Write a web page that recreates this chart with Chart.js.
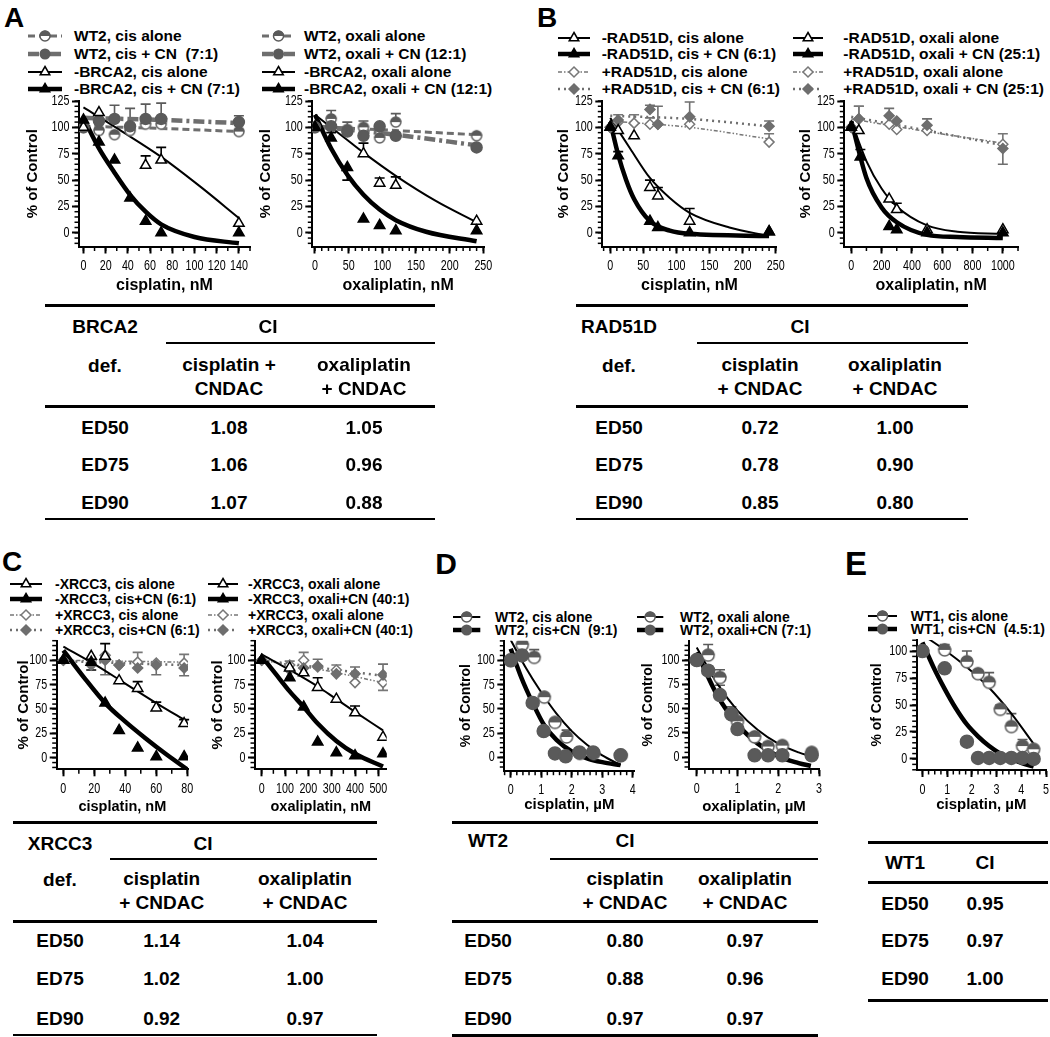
<!DOCTYPE html>
<html><head><meta charset="utf-8">
<script src="https://cdn.jsdelivr.net/npm/chart.js@4.4.1/dist/chart.umd.min.js"></script>
<style>
html,body{margin:0;padding:0;background:#fff}
body{width:1050px;height:1037px;position:relative;overflow:hidden;font-family:'Liberation Sans',Arial,Helvetica,sans-serif;font-weight:bold;color:#000}
.t{position:absolute;white-space:nowrap;line-height:1}
canvas{position:absolute}
.hl{position:absolute;background:#000}
svg{position:absolute;overflow:visible}
</style></head><body>
<script>
// ---------------- DATA ----------------
// Panel A left: cisplatin, nM  [x, %control, error(+up/-down)]
const A1_wtAlone = [[0,100],[14,97],[28,93],[42,97],[56,103],[70,103],[140,96]];
const A1_wtCN    = [[0,100],[14,106],[28,108,13],[42,101,17],[56,108,14],[70,108,15],[140,105,6]];
const A1_koAlone = [[0,100],[14,114],[56,64,9],[70,69,12],[140,9]];
const A1_koCN    = [[0,107],[14,86],[28,69],[42,33],[56,11],[70,0],[140,0]];
const A1_fitWtAlone = [[0,101],[70,99],[140,96]];
const A1_fitWtCN    = [[0,109],[70,107],[140,104]];
const A1_fitKoAlone = [[0,119],[35,96],[70,72],[105,44],[140,14]];
const A1_fitKoCN    = [[0,109],[14,80],[28,57],[42,36],[56,20],[70,8],[100,-4],[140,-10]];
const A1_labels = ['WT2, cis alone','WT2, cis + CN\u00a0 (7:1)','-BRCA2, cis alone','-BRCA2, cis + CN (7:1)'];

// Panel A right: oxaliplatin, nM
const A2_wtAlone = [[0,100],[24,108,8],[48,98,7],[72,100,6],[96,90],[120,105,8],[240,92]];
const A2_wtCN    = [[0,100],[24,101],[48,96],[72,92],[96,101],[120,92],[240,81]];
const A2_koAlone = [[0,100],[72,75,10],[96,47,5],[120,45,8],[240,11]];
const A2_koCN    = [[0,100],[24,90,5],[48,62,-12],[72,13],[96,7],[120,2],[240,2]];
const A2_fitWtAlone = [[0,101],[120,97],[240,93]];
const A2_fitWtCN    = [[0,101],[120,93],[240,83]];
const A2_fitKoAlone = [[0,112],[48,88],[72,76],[120,54],[180,30],[240,10]];
const A2_fitKoCN    = [[0,112],[24,80],[48,55],[72,36],[96,22],[120,12],[165,1],[240,-8]];
const A2_labels = ['WT2, oxali alone','WT2, oxali + CN (12:1)','-BRCA2, oxali alone','-BRCA2, oxali + CN (12:1)'];

// Panel B left: cisplatin, nM
const B1_koAlone = [[0,100],[12,97],[36,92],[60,43,7],[72,35,8],[120,11,12],[240,1]];
const B1_koCN    = [[0,100],[12,73,4],[60,11],[72,5],[120,0],[240,1]];
const B1_wtAlone = [[0,100],[12,105,7],[36,104,8],[60,103,6],[72,103],[120,103],[240,86,8]];
const B1_wtCN    = [[0,100],[12,107],[60,117,4],[72,103,17],[120,110,14],[240,101,5]];
const B1_fitKoAlone = [[0,109],[30,80],[60,52],[90,33],[120,19],[180,5],[240,-3]];
const B1_fitKoCN    = [[0,105],[12,74],[24,50],[36,32],[60,11],[90,2],[120,-1],[240,-3]];
const B1_fitWtAlone = [[0,106],[120,100],[240,89]];
const B1_fitWtCN    = [[0,111],[120,108],[240,101]];
const B1_labels = ['-RAD51D, cis alone','-RAD51D, cis + CN (6:1)','+RAD51D, cis alone','+RAD51D, cis + CN (6:1)'];

// Panel B right: oxaliplatin, nM
const B2_koAlone = [[0,100],[50,97],[250,32],[300,22,6],[500,3],[1000,3]];
const B2_koCN    = [[0,100],[60,72,7],[250,6],[300,3],[500,0],[1000,0]];
const B2_wtAlone = [[0,100],[50,108,12],[250,103],[300,98],[500,97],[1000,84,10]];
const B2_wtCN    = [[0,100],[50,108,12],[250,111,7],[300,106],[500,102,6],[1000,80,-15]];
const B2_fitKoAlone = [[0,106],[100,68],[200,42],[300,25],[500,7],[700,1],[1000,-1]];
const B2_fitKoCN    = [[0,106],[100,52],[200,24],[300,10],[500,-2],[700,-4],[1000,-5]];
const B2_fitWtAlone = [[0,108],[500,96],[1000,85]];
const B2_fitWtCN    = [[0,110],[500,97],[1000,83]];
const B2_labels = ['-RAD51D, oxali alone','-RAD51D, oxali + CN (25:1)','+RAD51D, oxali alone','+RAD51D, oxali + CN (25:1)'];

// Panel C left: cisplatin, nM
const C1_koAlone = [[0,100],[18,104],[27,104,13],[36,79],[48,71,7],[60,51,6],[78,35,4]];
const C1_koCN    = [[0,100],[18,98,-8],[27,56],[36,28],[48,10],[60,1],[78,1]];
const C1_wtAlone = [[0,100],[18,97],[27,105],[36,95],[48,98,10],[60,97],[78,97,9]];
const C1_wtCN    = [[0,100],[18,95],[27,100,-15],[36,95],[48,92],[60,95,-10],[78,92,-8]];
const C1_fitKoAlone = [[0,114],[20,96],[40,76],[60,56],[80,37]];
const C1_fitKoCN    = [[0,110],[13,83],[27,56],[40,37],[53,20],[66,4],[80,-12]];
const C1_fitWtAlone = [[0,100],[78,98]];
const C1_fitWtCN    = [[0,99],[78,95]];
const C1_labels = ['-XRCC3, cis alone','-XRCC3, cis+CN (6:1)','+XRCC3, cis alone','+XRCC3, cis+CN (6:1)'];

// Panel C right: oxaliplatin, nM
const C2_koAlone = [[0,100],[120,92],[180,87,5],[240,72,10],[320,60],[400,46,7],[520,21]];
const C2_koCN    = [[0,100],[120,82],[180,52],[240,16],[320,5],[400,2],[520,4]];
const C2_wtAlone = [[0,100],[120,95,4],[180,100,8],[240,93],[320,90,5],[400,77],[520,77,-8]];
const C2_wtCN    = [[0,100],[120,90],[180,92],[240,94,7],[320,86],[400,86,7],[520,85,11]];
const C2_fitKoAlone = [[0,106],[120,90],[240,73],[320,60],[400,47],[520,28]];
const C2_fitKoCN    = [[0,104],[60,86],[120,68],[180,52],[240,35],[320,17],[400,4],[520,-9]];
const C2_fitWtAlone = [[0,100],[260,90],[520,77]];
const C2_fitWtCN    = [[0,100],[260,92],[520,84]];
const C2_labels = ['-XRCC3, oxali alone','-XRCC3, oxali+CN (40:1)','+XRCC3, oxali alone','+XRCC3, oxali+CN (40:1)'];

// Panel D left: cisplatin, uM
const D1_alone = [[0,100],[0.38,116],[0.77,103,8],[1.1,62],[1.45,36],[1.83,21,7],[2.27,4],[2.72,4],[3.62,2]];
const D1_cn    = [[0,100],[0.37,105],[0.72,56],[1.08,27],[1.45,4],[1.8,1],[2.25,5],[2.7,5],[3.6,2]];
const D1_fitAlone = [[0,121],[0.5,92],[1,67],[1.5,45],[2,27],[2.5,13],[3,2],[3.6,-8]];
const D1_fitCN    = [[0,112],[0.35,82],[0.72,56],[1.1,33],[1.5,18],[2,6],[2.5,-1],[3,-5],[3.6,-8]];
const D1_labels = ['WT2, cis alone','WT2, cis+CN\u00a0 (9:1)'];

// Panel D right: oxaliplatin, uM
const D2_alone = [[0,100],[0.28,105,11],[0.57,82,8],[0.85,45,7],[1.0,37],[1.42,21,4],[1.75,11,4],[2.1,12],[2.82,5]];
const D2_cn    = [[0,100],[0.28,89,5],[0.57,64,10],[0.85,44],[1.0,29],[1.42,2],[1.75,2],[2.1,2],[2.82,2]];
const D2_fitAlone = [[0,113],[0.5,76],[1,48],[1.5,28],[2,14],[2.5,5],[2.8,1]];
const D2_fitCN    = [[0,108],[0.5,64],[1,34],[1.5,14],[2,1],[2.5,-6],[2.8,-9]];
const D2_labels = ['WT2, oxali alone','WT2, oxali+CN (7:1)'];

// Panel E: cisplatin, uM
const E_alone = [[0,100],[0.9,101,5],[1.8,90,10],[2.25,79],[2.7,71,9],[3.15,46,4],[3.6,30,12],[4.05,12,6],[4.5,9,2]];
const E_cn    = [[0,100],[0.9,84],[1.8,16],[2.25,1],[2.7,1],[3.15,1],[3.6,1],[4.05,1],[4.5,0]];
const E_fitAlone = [[0,115],[0.9,101],[1.8,85],[2.7,66],[3.6,42],[4.5,14]];
const E_fitCN    = [[0,108],[0.45,85],[0.9,65],[1.35,47],[1.8,32],[2.25,21],[2.7,12],[3.15,5],[3.6,0],[4.05,-4],[4.5,-7]];
const E_labels = ['WT1, cis alone','WT1, cis+CN\u00a0 (4.5:1)'];

// Tick labels
const TK_y125 = [0,25,50,75,100,125];
const TK_y100 = [0,25,50,75,100];
const TK_x140 = [0,20,40,60,80,100,120,140];
const TK_x250 = [0,50,100,150,200,250];
const TK_x1000 = [0,200,400,600,800,1000];
const TK_x80 = [0,20,40,60,80];
const TK_x500 = [0,100,200,300,400,500];
const TK_x4 = [0,1,2,3,4];
const TK_x3 = [0,1,2,3];
const TK_x5 = [0,1,2,3,4,5];

// CI tables
const CI_rows = ['ED50','ED75','ED90'];
const CI_A_cis = ['1.08','1.06','1.07'], CI_A_oxa = ['1.05','0.96','0.88'];
const CI_B_cis = ['0.72','0.78','0.85'], CI_B_oxa = ['1.00','0.90','0.80'];
const CI_C_cis = ['1.14','1.02','0.92'], CI_C_oxa = ['1.04','1.00','0.97'];
const CI_D_cis = ['0.80','0.88','0.97'], CI_D_oxa = ['0.97','0.96','0.97'];
const CI_E = ['0.95','0.97','1.00'];

// ---------------- STYLES ----------------
const SANS = "'Liberation Sans', Arial, Helvetica, sans-serif";
const G1 = '#5a5a5a', G2 = '#6e6e6e';
const ST = {
  wtAlone:  {line:G2, w:3,   dash:[7,4],       m:'half',     mc:G1, r:5.5},
  wtCN:     {line:G2, w:4.5, dash:[11,4,3,4],  m:'circle',   mc:G1, r:5.5},
  koAlone:  {line:'#000', w:2, dash:[],        m:'triOpen',  mc:'#000', r:6},
  koCN:     {line:'#000', w:4.5, dash:[],      m:'triFill',  mc:'#000', r:6},
  resAlone: {line:'#777', w:1.5, dash:[4,2,1.5,2,1.5,2], m:'diamOpen', mc:'#777', r:5},
  resCN:    {line:G2, w:2.5, dash:[2,4],      m:'diamFill', mc:G2, r:5},
  dAlone:   {line:'#000', w:2, dash:[],        m:'half',     mc:G1, r:6.5},
  dCN:      {line:'#000', w:4.5, dash:[],      m:'circle',   mc:G1, r:6.5}
};

// ---------------- HELPERS ----------------
function txt(s, x, y, size, align, font){
  const d = document.createElement('div'); d.className='t'; d.textContent = s;
  d.style.fontSize = size+'px'; if(font) d.style.fontFamily = font;
  d.style.left = x+'px'; d.style.top = y+'px';
  d.style.transform = align==='left' ? 'translate(0,-50%)' : 'translate(-50%,-50%)';
  document.body.appendChild(d); return d;
}
function hl(x1,x2,y,th){ const d=document.createElement('div'); d.className='hl';
  d.style.left=x1+'px'; d.style.width=(x2-x1)+'px'; d.style.top=(y-th/2)+'px'; d.style.height=th+'px';
  document.body.appendChild(d); }

function halfImg(r, col){
  const s = Math.ceil(2*r+3), c=document.createElement('canvas'); c.width=s; c.height=s;
  const g=c.getContext('2d'), m=s/2;
  g.fillStyle='#fff'; g.beginPath(); g.arc(m,m,r,0,2*Math.PI); g.fill();
  g.fillStyle=col; g.beginPath(); g.arc(m,m,r,Math.PI,2*Math.PI); g.closePath(); g.fill();
  g.strokeStyle=col; g.lineWidth=1.5; g.beginPath(); g.arc(m,m,r-0.5,0,2*Math.PI); g.stroke();
  return c;
}
function pstyle(st){
  switch(st.m){
    case 'half': return {ps:halfImg(st.r, st.mc), bg:'#fff', bc:st.mc};
    case 'circle': return {ps:'circle', bg:st.mc, bc:st.mc};
    case 'triOpen': return {ps:'triangle', bg:'#fff', bc:'#000'};
    case 'triFill': return {ps:'triangle', bg:'#000', bc:'#000'};
    case 'diamOpen': return {ps:'rectRot', bg:'#fff', bc:st.mc};
    case 'diamFill': return {ps:'rectRot', bg:st.mc, bc:st.mc};
  }
}
function markerDs(arr, st){
  const p = pstyle(st);
  return {data:arr.map(a=>({x:a[0],y:a[1]})), errs:arr.map(a=>a[2]||0), errColor:p.bc,
    showLine:false, pointStyle:p.ps, pointRadius:st.r, backgroundColor:p.bg, borderColor:p.bc,
    pointBackgroundColor:p.bg, pointBorderColor:p.bc, pointBorderWidth:1.5};
}
function fitDs(arr, st){
  return {data:arr.map(a=>({x:a[0],y:a[1]})), showLine:true, pointRadius:0, borderColor:st.line,
    borderWidth:st.w, borderDash:st.dash, cubicInterpolationMode:'monotone', fill:false, borderCapStyle:'butt'};
}

const errPlugin = {id:'errBars', beforeDatasetsDraw(chart){
  const ctx=chart.ctx, xs=chart.scales.x, ys=chart.scales.y;
  ctx.save();
  chart.data.datasets.forEach(ds=>{
    if(!ds.errs) return;
    ds.data.forEach((p,i)=>{
      const e=ds.errs[i]; if(!e) return;
      const x=xs.getPixelForValue(p.x), y0=ys.getPixelForValue(p.y), y1=ys.getPixelForValue(p.y+e);
      ctx.strokeStyle=ds.errColor; ctx.lineWidth=1.6;
      ctx.beginPath(); ctx.moveTo(x,y0); ctx.lineTo(x,y1); ctx.moveTo(x-5,y1); ctx.lineTo(x+5,y1); ctx.stroke();
    });
  });
  ctx.restore();
}};
const minorPlugin = {id:'minorTicks', afterDraw(chart){
  const o = chart.options.plugins.minorTicks; if(!o) return;
  const ctx=chart.ctx, xs=chart.scales.x, ys=chart.scales.y, ca=chart.chartArea;
  ctx.save(); ctx.strokeStyle='#000'; ctx.lineWidth=1.5;
  for(let k=Math.ceil(xs.min/o.x-1e-9); k*o.x<=xs.max+1e-9; k++){
    const px=xs.getPixelForValue(k*o.x); ctx.beginPath(); ctx.moveTo(px,ca.bottom); ctx.lineTo(px,ca.bottom+4.5); ctx.stroke();
  }
  for(let k=Math.ceil(ys.min/o.y-1e-9); k*o.y<=ys.max+1e-9; k++){
    const py=ys.getPixelForValue(k*o.y); ctx.beginPath(); ctx.moveTo(ca.left,py); ctx.lineTo(ca.left-4.5,py); ctx.stroke();
  }
  // condensed tick labels (GraphPad-style narrow font), placed from the library's scales
  ctx.fillStyle='#000'; ctx.font='14.5px '+SANS; ctx.textBaseline='middle';
  ctx.textAlign='center';
  xs.ticks.forEach(t=>{ const px=xs.getPixelForValue(t.value);
    ctx.save(); ctx.translate(px, ca.bottom+19.5); ctx.scale(0.74,1); ctx.fillText(String(t.value),0,0); ctx.restore(); });
  ctx.textAlign='right';
  ys.ticks.forEach(t=>{ const py=ys.getPixelForValue(t.value);
    ctx.save(); ctx.translate(ca.left-9.5, py); ctx.scale(0.74,1); ctx.fillText(String(t.value),0,0); ctx.restore(); });
  ctx.restore();
}};

function chart(g, ax, datasets){
  const ylh=g.yf*1.2, xlh=g.xf*1.2, padT=10;
  const left=Math.round(g.L-(g.L-g.yt+ylh/2));
  const Wy=g.L-left, Hx=g.xt+xlh/2-g.B;
  const top=Math.round(g.T-padT), pT=g.T-top;
  const W=Math.ceil(Wy+(g.R-g.L)+14), H=Math.ceil(pT+(g.B-g.T)+Hx);
  const padR=W-Wy-(g.R-g.L), padB=H-pT-(g.B-g.T)-Hx;
  const cv=document.createElement('canvas'); cv.width=W; cv.height=H;
  cv.style.left=left+'px'; cv.style.top=top+'px'; document.body.appendChild(cv);
  new Chart(cv,{type:'scatter',data:{datasets},
    options:{responsive:false,animation:false,devicePixelRatio:1,
      layout:{padding:{left:0,top:pT,right:padR,bottom:padB}},
      plugins:{legend:{display:false},tooltip:{enabled:false},minorTicks:{x:ax.xm,y:ax.ym}},
      scales:{
        x:{type:'linear',min:ax.xmin,max:ax.xmax,
          afterBuildTicks:s=>{s.ticks=ax.xt.map(v=>({value:v}));},
          afterFit:s=>{s.height=Hx;},
          grid:{display:true,drawOnChartArea:false,drawTicks:true,tickLength:7,tickColor:'#000',tickWidth:2},
          border:{display:true,color:'#000',width:2},
          ticks:{display:false},
          title:{display:true,text:ax.xTitle,color:'#000',font:{family:SANS,size:g.xf,weight:'bold'},padding:0}},
        y:{type:'linear',min:ax.ymin,max:ax.ymax,
          afterBuildTicks:s=>{s.ticks=ax.yt.map(v=>({value:v}));},
          afterFit:s=>{s.width=Wy;},
          grid:{display:true,drawOnChartArea:false,drawTicks:true,tickLength:7,tickColor:'#000',tickWidth:2},
          border:{display:true,color:'#000',width:2},
          ticks:{display:false},
          title:{display:true,text:'% of Control',color:'#000',font:{family:SANS,size:g.yf,weight:'bold'},padding:0}}
      }},
    plugins:[errPlugin,minorPlugin]});
}

function svgMarker(m, cx, cy, r, col){
  const f=(n)=>n.toFixed(2);
  switch(m){
    case 'triOpen': case 'triFill': {
      const pts=`${f(cx)},${f(cy-r)} ${f(cx+0.87*r)},${f(cy+0.5*r)} ${f(cx-0.87*r)},${f(cy+0.5*r)}`;
      return `<polygon points="${pts}" fill="${m==='triOpen'?'#fff':'#000'}" stroke="#000" stroke-width="1.5"/>`; }
    case 'circle': return `<circle cx="${cx}" cy="${cy}" r="${r}" fill="${col}"/>`;
    case 'half': return `<circle cx="${cx}" cy="${cy}" r="${r-0.5}" fill="#fff" stroke="${col}" stroke-width="1.5"/><path d="M${cx-r},${cy} A${r},${r} 0 0 1 ${cx+r},${cy} Z" fill="${col}"/>`;
    case 'diamOpen': case 'diamFill': {
      const pts=`${cx},${cy-r} ${cx+r},${cy} ${cx},${cy+r} ${cx-r},${cy}`;
      return `<polygon points="${pts}" fill="${m==='diamOpen'?'#fff':col}" stroke="${col}" stroke-width="1.5"/>`; }
  }
}
function legend(rows, sx1, sx2, tx, fs, labels, styles){
  labels.forEach((lab,i)=>{
    const st=styles[i], cy=rows[i], w=sx2-sx1;
    const s=document.createElementNS('http://www.w3.org/2000/svg','svg');
    s.setAttribute('width',w); s.setAttribute('height',16);
    s.style.left=sx1+'px'; s.style.top=(cy-8)+'px';
    s.innerHTML=`<line x1="0" y1="8" x2="${w}" y2="8" stroke="${st.line}" stroke-width="${st.w}" stroke-dasharray="${st.dash.join(' ')}"/>`+svgMarker(st.m,w/2,8,Math.min(st.r,5.5),st.mc);
    document.body.appendChild(s);
    txt(lab, tx, cy, fs, 'left');
  });
}

// ---------------- BUILD ----------------
txt('A',14,17.5,28); txt('B',547,17.5,28); txt('C',12,562,28); txt('D',446,564,30); txt('E',856,562.5,33);

const S4 = [ST.wtAlone, ST.wtCN, ST.koAlone, ST.koCN];
const R4 = [ST.koAlone, ST.koCN, ST.resAlone, ST.resCN];
const D2s = [ST.dAlone, ST.dCN];

// A
legend([36,54,71.5,88.5],28,62,74,15.5,A1_labels,S4);
legend([36,54,71.5,88.5],262,295,304,15.5,A2_labels,S4);
chart({L:79,T:101,R:250,B:246.5,yt:33,xt:286,yf:15,xf:16},
  {xmin:-4,xmax:150,ymin:-13,ymax:125,xt:TK_x140,yt:TK_y125,xm:10,ym:5,xTitle:'cisplatin, nM'},
  [markerDs(A1_koCN,ST.koCN),markerDs(A1_koAlone,ST.koAlone),markerDs(A1_wtCN,ST.wtCN),markerDs(A1_wtAlone,ST.wtAlone),
   fitDs(A1_fitKoCN,ST.koCN),fitDs(A1_fitKoAlone,ST.koAlone),fitDs(A1_fitWtCN,ST.wtCN),fitDs(A1_fitWtAlone,ST.wtAlone)]);
chart({L:312.3,T:101,R:484,B:246.5,yt:266,xt:286,yf:15,xf:16},
  {xmin:-4,xmax:251,ymin:-13,ymax:125,xt:TK_x250,yt:TK_y125,xm:10,ym:5,xTitle:'oxaliplatin, nM'},
  [markerDs(A2_koCN,ST.koCN),markerDs(A2_koAlone,ST.koAlone),markerDs(A2_wtCN,ST.wtCN),markerDs(A2_wtAlone,ST.wtAlone),
   fitDs(A2_fitKoCN,ST.koCN),fitDs(A2_fitKoAlone,ST.koAlone),fitDs(A2_fitWtCN,ST.wtCN),fitDs(A2_fitWtAlone,ST.wtAlone)]);

// B
legend([37.5,54,71.5,88.5],558,590,601.7,15.5,B1_labels,R4);
legend([37.5,54,71.5,88.5],793,823,843.3,15.5,B2_labels,R4);
chart({L:602.3,T:101,R:776.7,B:246.5,yt:563.5,xt:286,yf:15,xf:16},
  {xmin:-12,xmax:251.5,ymin:-13,ymax:125,xt:TK_x250,yt:TK_y125,xm:10,ym:5,xTitle:'cisplatin, nM'},
  [markerDs(B1_koCN,ST.koCN),markerDs(B1_koAlone,ST.koAlone),markerDs(B1_wtCN,ST.resCN),markerDs(B1_wtAlone,ST.resAlone),
   fitDs(B1_fitKoCN,ST.koCN),fitDs(B1_fitKoAlone,ST.koAlone),fitDs(B1_fitWtCN,ST.resCN),fitDs(B1_fitWtAlone,ST.resAlone)]);
chart({L:844.3,T:101,R:1018,B:246.5,yt:806,xt:286,yf:15,xf:16},
  {xmin:-46,xmax:1100,ymin:-13,ymax:125,xt:TK_x1000,yt:TK_y125,xm:100,ym:5,xTitle:'oxaliplatin, nM'},
  [markerDs(B2_koCN,ST.koCN),markerDs(B2_koAlone,ST.koAlone),markerDs(B2_wtCN,ST.resCN),markerDs(B2_wtAlone,ST.resAlone),
   fitDs(B2_fitKoCN,ST.koCN),fitDs(B2_fitKoAlone,ST.koAlone),fitDs(B2_fitWtCN,ST.resCN),fitDs(B2_fitWtAlone,ST.resAlone)]);

// C
legend([583.5,599.3,614.5,629.5],10,42,55,14,C1_labels,R4);
legend([583.5,599.3,614.5,629.5],208,238,248,14,C2_labels,R4);
chart({L:56.7,T:640.7,R:188,B:769.3,yt:24,xt:806.7,yf:15,xf:14.5},
  {xmin:-4.3,xmax:80.5,ymin:-11.9,ymax:120,xt:TK_x80,yt:TK_y100,xm:10,ym:5,xTitle:'cisplatin, nM'},
  [markerDs(C1_koCN,ST.koCN),markerDs(C1_koAlone,ST.koAlone),markerDs(C1_wtCN,ST.resCN),markerDs(C1_wtAlone,ST.resAlone),
   fitDs(C1_fitKoCN,ST.koCN),fitDs(C1_fitKoAlone,ST.koAlone),fitDs(C1_fitWtCN,ST.resCN),fitDs(C1_fitWtAlone,ST.resAlone)]);
chart({L:255,T:640.7,R:386.7,B:769.3,yt:218,xt:806.7,yf:15,xf:14.5},
  {xmin:-28.7,xmax:535.8,ymin:-11.9,ymax:120,xt:TK_x500,yt:TK_y100,xm:50,ym:5,xTitle:'oxaliplatin, nM'},
  [markerDs(C2_koCN,ST.koCN),markerDs(C2_koAlone,ST.koAlone),markerDs(C2_wtCN,ST.resCN),markerDs(C2_wtAlone,ST.resAlone),
   fitDs(C2_fitKoCN,ST.koCN),fitDs(C2_fitKoAlone,ST.koAlone),fitDs(C2_fitWtCN,ST.resCN),fitDs(C2_fitWtAlone,ST.resAlone)]);

// D
legend([616.7,630],452.7,480,495,14,D1_labels,D2s);
legend([616.7,630],636.7,663,680,14,D2_labels,D2s);
chart({L:504.3,T:640.7,R:634.3,B:770.7,yt:466.7,xt:805,yf:14,xf:15},
  {xmin:-0.21,xmax:4.05,ymin:-13.8,ymax:120.2,xt:TK_x4,yt:TK_y100,xm:0.2,ym:5,xTitle:'cisplatin, \u00b5M'},
  [markerDs(D1_cn,ST.dCN),markerDs(D1_alone,ST.dAlone),fitDs(D1_fitCN,ST.dCN),fitDs(D1_fitAlone,ST.dAlone)]);
chart({L:689,T:640.7,R:819,B:769.3,yt:648,xt:806.7,yf:14,xf:15},
  {xmin:-0.19,xmax:3.0,ymin:-12.4,ymax:119.9,xt:TK_x3,yt:TK_y100,xm:0.2,ym:5,xTitle:'oxaliplatin, \u00b5M'},
  [markerDs(D2_cn,ST.dCN),markerDs(D2_alone,ST.dAlone),fitDs(D2_fitCN,ST.dCN),fitDs(D2_fitAlone,ST.dAlone)]);

// E
legend([616,629.3],868,897,910.7,14,E_labels,D2s);
chart({L:916.7,T:640,R:1046,B:770,yt:877,xt:805,yf:14,xf:15},
  {xmin:-0.23,xmax:5.0,ymin:-10.2,ymax:110.2,xt:TK_x5,yt:TK_y100,xm:0.25,ym:5,xTitle:'cisplatin, \u00b5M'},
  [markerDs(E_cn,ST.dCN),markerDs(E_alone,ST.dAlone),fitDs(E_fitCN,ST.dCN),fitDs(E_fitAlone,ST.dAlone)]);

// ---------------- TABLES ----------------
const TF = 19;
function bigTable(x1,x2,subX,colL,colCI,c1,c2,yTop,ySub,yHead1,yHead2,yLine,rowYs,yBot,name,h1a,h1b,h2a,h2b,v1,v2){
  hl(x1,x2,yTop,3);
  txt(name,colL,(yTop+ySub)/2+2,TF); txt('CI',colCI,(yTop+ySub)/2+2,TF);
  hl(subX,x2,ySub,2.5);
  txt('def.',colL,yHead1+1,TF);
  txt(h1a,c1,yHead1,TF); txt(h1b,c1,yHead2,TF); txt(h2a,c2,yHead1,TF); txt(h2b,c2,yHead2,TF);
  hl(x1,x2,yLine,3);
  CI_rows.forEach((r,i)=>{ txt(r,colL,rowYs[i],TF); txt(v1[i],c1,rowYs[i],TF); txt(v2[i],c2,rowYs[i],TF); });
  hl(x1,x2,yBot,2.5);
}
bigTable(45,435,166,105,268,229,364,305,343,364,388,406,[427,464,502],519,'BRCA2','cisplatin +','CNDAC','oxaliplatin','+ CNDAC',CI_A_cis,CI_A_oxa);
bigTable(576,968,697,619,800,760,895,305,343,364,388,406,[427,464,502],519,'RAD51D','cisplatin','+ CNDAC','oxaliplatin','+ CNDAC',CI_B_cis,CI_B_oxa);
bigTable(13,377,110,60,203,161.7,305,822,859,878,902,921,[940,978,1018],1035,'XRCC3','cisplatin','+ CNDAC','oxaliplatin','+ CNDAC',CI_C_cis,CI_C_oxa);
(function(){
  const x1=452,x2=818;
  hl(x1,x2,822,3); txt('WT2',488,840,TF); txt('CI',625,840,TF); hl(550,x2,859,2.5);
  txt('cisplatin',625,878,TF); txt('+ CNDAC',625,902,TF); txt('oxaliplatin',745,878,TF); txt('+ CNDAC',745,902,TF);
  hl(x1,x2,921,3);
  const ys=[940,978,1018];
  CI_rows.forEach((r,i)=>{ txt(r,488,ys[i],TF); txt(CI_D_cis[i],625,ys[i],TF); txt(CI_D_oxa[i],745,ys[i],TF); });
  hl(x1,x2,1035,3);
})();
(function(){
  const x1=868,x2=1048;
  hl(x1,x2,842,3); txt('WT1',905,862,TF); txt('CI',985,862,TF); hl(x1,x2,882,3);
  const ys=[903,940,978];
  CI_rows.forEach((r,i)=>{ txt(r,905,ys[i],TF); txt(CI_E[i],985,ys[i],TF); });
  hl(x1,x2,1000,3);
})();
</script>
</body></html>
